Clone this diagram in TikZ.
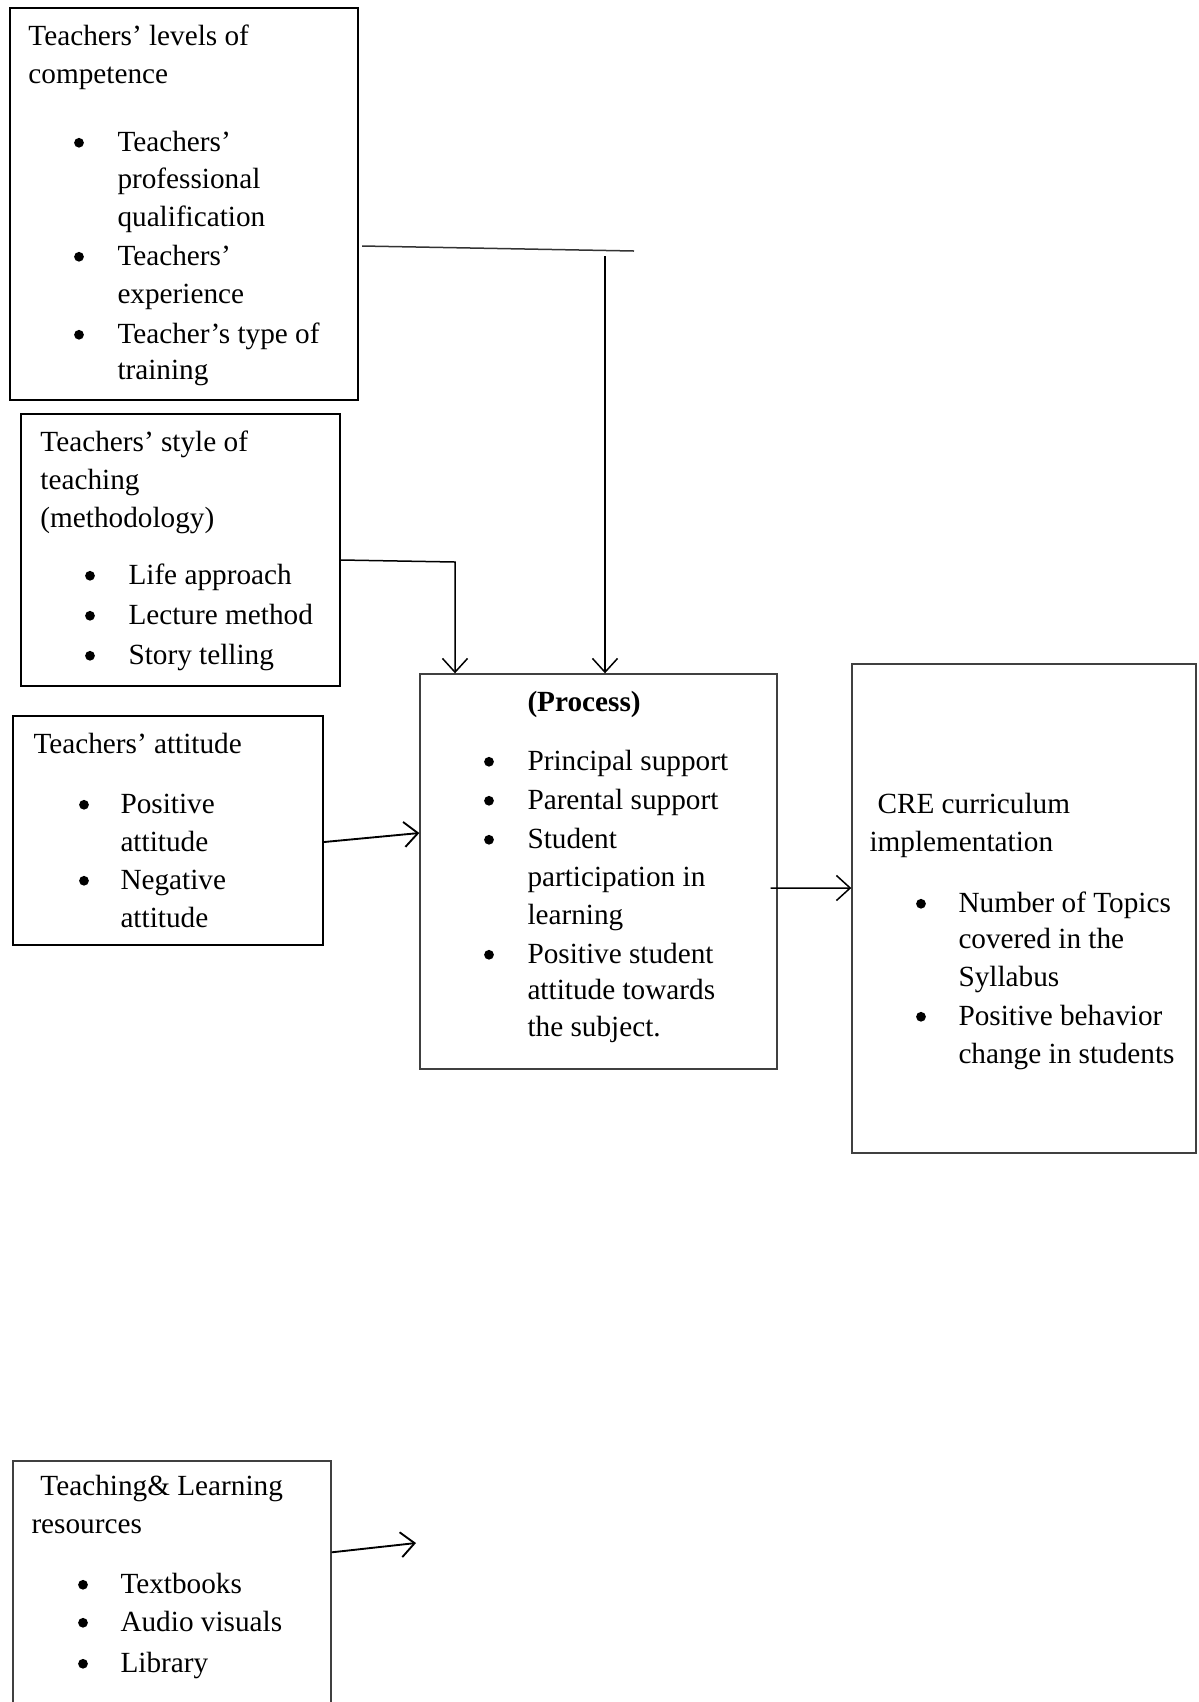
\documentclass[tikz,border=0pt]{standalone}
\usepackage{fontspec}
\setmainfont{Liberation Serif}
\usetikzlibrary{arrows.meta,fit}
\begin{document}
\begin{tikzpicture}[x=0.4pt,y=-0.4pt,
 box/.style={draw, line width=0.9pt, inner sep=0pt},
 lbox/.style={draw=black!75, line width=0.55pt, inner sep=0pt},
 txt/.style={anchor=base west, inner sep=0pt, font=\fontsize{11.7}{14}\selectfont},
 bul/.style={circle, fill, inner sep=0pt, minimum size=3.9pt, yshift=3.3pt},
 arr/.style={-{Straight Barb[length=5.5pt,width=10pt]}, line width=0.6pt}]
\clip (0,0) rectangle (1199,1702);
\fill[white] (0,0) rectangle (1199,1702);

% boxes
\node[box, fit={(10,8)(358,400)}] (b1) {};
\node[box, fit={(21,414)(340,686)}] (b2) {};
\node[box, fit={(13,716)(323,945)}] (b3) {};
\node[lbox, fit={(420,674)(777,1069)}] (b4) {};
\node[lbox, fit={(852,664)(1196,1153)}] (b5) {};
\node[lbox, fit={(13,1461)(331,1712)}] (b6) {};

% box 1 text
\node[txt] (a1) at (28,45) {Teachers’ levels of};
\node[txt] (a2) at (28,83) {competence};
\node[bul] (a3b) at (79,151) {};
\node[txt] (a3) at (117,151) {Teachers’};
\node[txt] (a4) at (117,188) {professional};
\node[txt] (a5) at (117,226) {qualification};
\node[bul] (a6b) at (79,265) {};
\node[txt] (a6) at (117,265) {Teachers’};
\node[txt] (a7) at (117,303) {experience};
\node[bul] (a8b) at (79,343) {};
\node[txt] (a8) at (117,343) {Teacher’s type of};
\node[txt] (a9) at (117,379) {training};

% box 2 text
\node[txt] (s1) at (40,451) {Teachers’ style of};
\node[txt] (s2) at (40,489) {teaching};
\node[txt] (s3) at (40,527) {(methodology)};
\node[bul] (s4b) at (90,584) {};
\node[txt] (s4) at (128,584) {Life approach};
\node[bul] (s5b) at (90,624) {};
\node[txt] (s5) at (128,624) {Lecture method};
\node[bul] (s6b) at (90,664) {};
\node[txt] (s6) at (128,664) {Story telling};

% box 3 text
\node[txt] (t1) at (33,753) {Teachers’ attitude};
\node[bul] (t2b) at (84,813) {};
\node[txt] (t2) at (120,813) {Positive};
\node[txt] (t3) at (120,851) {attitude};
\node[bul] (t4b) at (84,889) {};
\node[txt] (t4) at (120,889) {Negative};
\node[txt] (t5) at (120,927) {attitude};

% box 4 text
\node[txt] (p1) at (527,711) {\bfseries (Process)};
\node[bul] (p2b) at (489,770) {};
\node[txt] (p2) at (527,770) {Principal support};
\node[bul] (p3b) at (489,809) {};
\node[txt] (p3) at (527,809) {Parental support};
\node[bul] (p4b) at (489,848) {};
\node[txt] (p4) at (527,848) {Student};
\node[txt] (p5) at (527,886) {participation in};
\node[txt] (p6) at (527,924) {learning};
\node[bul] (p7b) at (489,963) {};
\node[txt] (p7) at (527,963) {Positive student};
\node[txt] (p8) at (527,999) {attitude towards};
\node[txt] (p9) at (527,1036) {the subject.};

% box 5 text
\node[txt] (c1) at (877,813) {CRE curriculum};
\node[txt] (c2) at (869,851) {implementation};
\node[bul] (c3b) at (921,912) {};
\node[txt] (c3) at (958,912) {Number of Topics};
\node[txt] (c4) at (958,948) {covered in the};
\node[txt] (c5) at (958,986) {Syllabus};
\node[bul] (c6b) at (921,1025) {};
\node[txt] (c6) at (958,1025) {Positive behavior};
\node[txt] (c7) at (958,1063) {change in students};

% box 6 text
\node[txt] (r1) at (40,1495) {Teaching\& Learning};
\node[txt] (r2) at (31,1533) {resources};
\node[bul] (r3b) at (83,1593) {};
\node[txt] (r3) at (120,1593) {Textbooks};
\node[bul] (r4b) at (83,1631) {};
\node[txt] (r4) at (120,1631) {Audio visuals};
\node[bul] (r5b) at (83,1672) {};
\node[txt] (r5) at (120,1672) {Library};

% connectors
\coordinate (k1) at (634,251);
\coordinate (k2) at (605,256);
\coordinate (k3) at (455,562);
\coordinate (k6) at (416,1543);
\draw[line width=0.6pt, draw=black!80] ([xshift=1.2pt,yshift=-16.8pt]b1.east) -- (k1);
\draw[arr] (k2) -- (k2 |- b4.north);
\draw[arr] ([yshift=-4pt]b2.east) -- (k3) -- (k3 |- b4.north);
\draw[arr, line width=0.75pt] ([yshift=-4.6pt]b3.east) -- ([yshift=15.4pt]b4.west);
\draw[arr] ([xshift=-2.8pt,yshift=-6.6pt]b4.east) -- ([yshift=8.2pt]b5.west);
\draw[arr, line width=0.75pt] ([yshift=-36.8pt]b6.north east) -- (k6);
\end{tikzpicture}
\end{document}
